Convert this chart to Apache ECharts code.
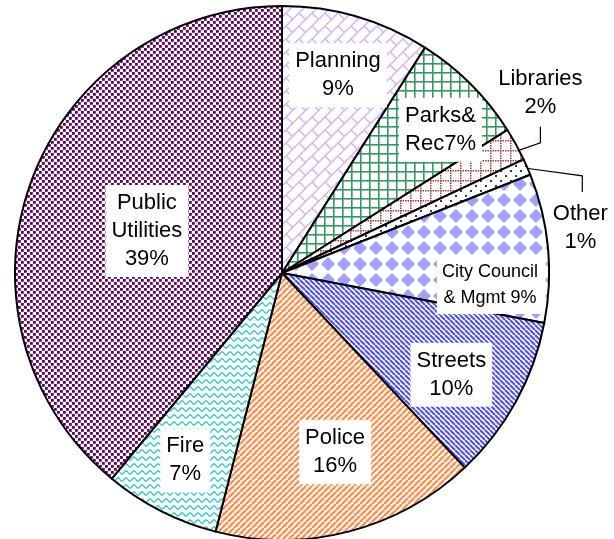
<!DOCTYPE html>
<html>
<head>
<meta charset="utf-8">
<script src="https://cdn.jsdelivr.net/npm/echarts@6/dist/echarts.min.js"></script>
<style>
  html, body { margin: 0; padding: 0; background: #fff; }
  #chart { width: 614px; height: 539px; }
</style>
</head>
<body>
<div id="chart"></div>
<script>
// budget shares, clockwise from 12 o'clock
const categories = ['Planning', 'Parks& Rec', 'Libraries', 'Other', 'City Council & Mgmt',
  'Streets', 'Police', 'Fire', 'Public Utilities'];
const shares = [9, 7, 2, 1, 9, 10, 16, 7, 39];
const labelTexts = ['Planning\n9%', 'Parks&\nRec7%', 'Libraries\n2%', 'Other\n1%',
  'City Council\n& Mgmt 9%', 'Streets\n10%', 'Police\n16%', 'Fire\n7%', 'Public\nUtilities\n39%'];

// geometry of the pie
const CX = 282, CY = 273, R = 267;
// label spots: [angle clockwise from top (deg), fraction of radius]
const spots = [[15.8, 0.77], [47.9, 0.80], [55.1, 1.18], [81.4, 1.13], [93.3, 0.78],
  [121, 0.74], [163.5, 0.70], [207.3, 0.79], [287.3, 0.53]];
// leader lines for the two small slices (start fraction, bend and end offset from label)
const leaders = {
  2: { from: 0.85, bend: [0, 50], end: [0, 34] },
  3: { from: 0.99, bend: [2, -52], end: [2, -36] }
};

// hatch fills
function tile(w, h, draw) {
  const c = document.createElement('canvas');
  c.width = w; c.height = h;
  const g = c.getContext('2d');
  g.fillStyle = '#fff';
  g.fillRect(0, 0, w, h);
  draw(g, w, h);
  return { image: c, repeat: 'repeat' };
}
const fills = [
  // planning: diagonal brick
  tile(13, 13, (g, a) => {
    g.strokeStyle = '#d3b2ff'; g.lineWidth = 1.5;
    for (const ox of [-a, 0, a]) for (const oy of [-a, 0, a]) {
      g.beginPath(); g.moveTo(ox, oy + a); g.lineTo(ox + a, oy); g.stroke();
      g.beginPath(); g.moveTo(ox, oy); g.lineTo(ox + a / 2, oy + a / 2); g.stroke();
    }
  }),
  // parks: grid
  tile(9, 9, (g, w, h) => {
    g.fillStyle = '#359863';
    g.fillRect(0, 0, w, 1.6); g.fillRect(0, 0, 1.6, h);
  }),
  // libraries: dotted grid
  tile(10, 10, g => {
    g.fillStyle = '#a83838';
    for (let i = 0; i < 10; i += 2.5) { g.fillRect(i, 0, 1.5, 1.5); g.fillRect(0, i, 1.5, 1.5); }
  }),
  // other: sparse dots
  tile(10, 10, g => {
    g.fillStyle = '#2a2a90';
    g.fillRect(0, 0, 2, 2); g.fillRect(5, 5, 2, 2);
  }),
  // city council: diamonds
  tile(16, 16, (g, a) => {
    g.fillStyle = '#a0a0ff';
    g.beginPath(); g.moveTo(a / 2, 1); g.lineTo(a - 1, a / 2); g.lineTo(a / 2, a - 1); g.lineTo(1, a / 2);
    g.closePath(); g.fill();
  }),
  // streets: downward stripes
  tile(5, 5, (g, a) => {
    g.strokeStyle = '#4d4dff'; g.lineWidth = 2;
    for (const ox of [-a, 0, a]) { g.beginPath(); g.moveTo(ox, 0); g.lineTo(ox + a, a); g.stroke(); }
  }),
  // police: upward stripes
  tile(6, 6, (g, a) => {
    g.strokeStyle = '#ff9050'; g.lineWidth = 2.4;
    for (const ox of [-a, 0, a]) { g.beginPath(); g.moveTo(ox, a); g.lineTo(ox + a, 0); g.stroke(); }
  }),
  // fire: waves
  tile(8, 7, (g, w) => {
    g.strokeStyle = '#3ccccc'; g.lineWidth = 1.5;
    g.beginPath();
    for (let x = 0; x <= w; x += 0.5) {
      const y = 3.5 + 1.6 * Math.sin(2 * Math.PI * x / w);
      x === 0 ? g.moveTo(x, y) : g.lineTo(x, y);
    }
    g.stroke();
  }),
  // public utilities: staggered squares
  tile(6, 6, g => {
    g.fillStyle = '#660066';
    g.fillRect(0, 0, 2.8, 2.8); g.fillRect(3, 3, 2.8, 2.8);
  })
];

const total = shares.reduce((s, v) => s + v, 0);
function midAngle(i) {
  let before = 0;
  for (let k = 0; k < i; k++) before += shares[k];
  return (before + shares[i] / 2) / total * 2 * Math.PI;
}

const chart = echarts.init(document.getElementById('chart'));
chart.setOption({
  animation: false,
  series: [{
    type: 'pie',
    center: [CX, CY],
    radius: R,
    startAngle: 90,
    clockwise: true,
    avoidLabelOverlap: false,
    emphasis: { disabled: true },
    itemStyle: { borderColor: '#000', borderWidth: 2 },
    label: {
      show: true,
      position: 'inside',
      fontFamily: 'Liberation Sans, Arial, sans-serif',
      fontSize: 22,
      lineHeight: 28,
      color: '#000',
      backgroundColor: '#fff',
      padding: [4, 6],
      formatter: p => labelTexts[p.dataIndex]
    },
    labelLine: { show: false },
    labelLayout: p => {
      const i = p.dataIndex;
      const a = spots[i][0] * Math.PI / 180;
      const x = CX + spots[i][1] * R * Math.sin(a);
      const y = CY - spots[i][1] * R * Math.cos(a);
      const out = { x: x, y: y, align: 'center', verticalAlign: 'middle' };
      const ld = leaders[i];
      if (ld) {
        const m = midAngle(i);
        out.labelLinePoints = [
          [CX + ld.from * R * Math.sin(m), CY - ld.from * R * Math.cos(m)],
          [x + ld.bend[0], y + ld.bend[1]],
          [x + ld.end[0], y + ld.end[1]]
        ];
      }
      return out;
    },
    data: shares.map((v, i) => {
      const item = { name: categories[i], value: v, itemStyle: { color: fills[i] } };
      if (leaders[i]) {
        item.label = { position: 'outside', backgroundColor: 'transparent', padding: 0 };
        item.labelLine = { show: true, length: 10, length2: 10, lineStyle: { color: '#000', width: 1.2 } };
      }
      if (i === 4) item.label = { fontSize: 18, lineHeight: 26, padding: [3, 5] };
      return item;
    })
  }]
});
</script>
</body>
</html>
